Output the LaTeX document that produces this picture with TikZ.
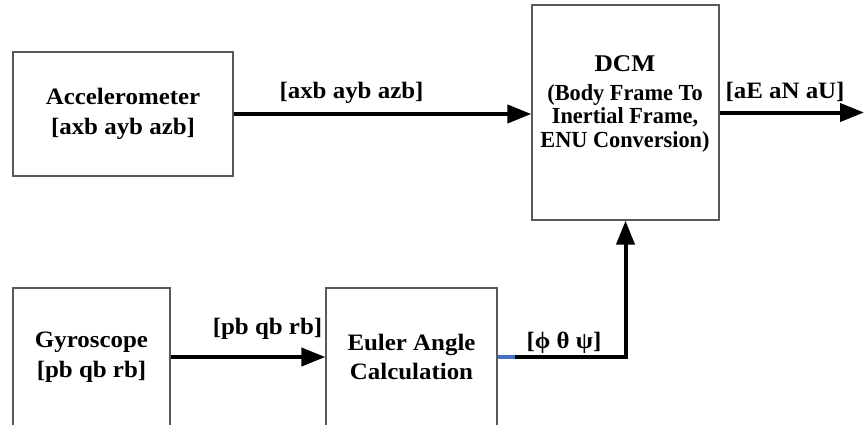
\documentclass[tikz,border=0pt]{standalone}
\usepackage{fontspec}
\setmainfont{Liberation Serif}[FakeStretch=1.06]
\newfontfamily\subfont{Liberation Serif}[FakeStretch=0.97]
\usetikzlibrary{arrows.meta}
\definecolor{boxgray}{gray}{0.35}
\definecolor{segblue}{RGB}{68,114,196}
\begin{document}
\begin{tikzpicture}[x=1pt,y=-1pt,
  box/.style={draw=boxgray,line width=1.3pt,inner sep=0pt,align=center,
    font=\bfseries\fontsize{23.5}{29.5}\selectfont},
  flow/.style={line width=4pt,-{Triangle[length=24pt,width=18pt]}},
  lbl/.style={anchor=base,inner sep=0pt,font=\bfseries\fontsize{23.5}{29}\selectfont}]
\useasboundingbox (0,0) rectangle (864,424);
\clip (0,0) rectangle (864,424);
% boxes
\node[box,minimum width=220pt,minimum height=124pt] (acc) at (123,114)
  {Accelerometer\\{[}axb ayb azb]};
\node[box,minimum width=187pt,minimum height=215pt] (dcm) at (625.5,112.5) {};
\node[inner sep=0pt,align=center,font=\bfseries\subfont\fontsize{23}{23.5}\selectfont]
  (dcmtext) at (625,103.5)
  {{\normalfont\bfseries\fontsize{24}{24}\selectfont DCM}\\[5.5pt]
   (Body Frame To\\Inertial Frame,\\ENU Conversion)};
\node[box,minimum width=157pt,minimum height=138pt] (gyro) at (91.5,357)
  {Gyroscope\\{[}pb qb rb]};
\node[box,minimum width=171pt,minimum height=138pt] (euler) at (411.5,357)
  {Euler Angle\\Calculation};
\coordinate (out) at (864,112.5);
% labels
\node[lbl] (acclbl) at (351.5,98) {[axb ayb azb]};
\node[lbl] (dcmlbl) at (785,98) {[aE aN aU]};
\node[lbl] (gyrlbl) at (267.5,334) {[pb qb rb]};
\node[lbl] (eullbl) at (564,348) {[ϕ θ ψ]};
% connectors
\draw[flow] (acc.east) -- (acc.east -| dcm.west);
\draw[flow] (dcm.east) -- (out);
\draw[flow] (gyro.east) -- (euler.west);
\draw[flow] (euler.east) -| (dcm.south);
\draw[line width=4pt,segblue] (euler.east) -- ++(17,0);
\end{tikzpicture}
\end{document}
